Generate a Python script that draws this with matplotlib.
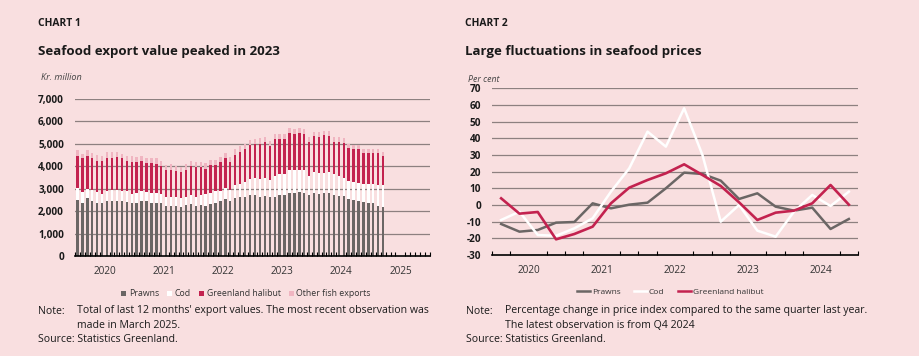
import matplotlib
matplotlib.use("Agg")
import matplotlib.pyplot as plt
import numpy as np
from matplotlib.lines import Line2D
from matplotlib.patches import Patch

plt.rcParams['font.family'] = ['Open Sans', 'DejaVu Sans']

# ---------------- Chart 1 data (monthly, Jan 2020 - Mar 2025), Kr. million -------------
prawns = [2500, 2380, 2580, 2470, 2380, 2350, 2430, 2430, 2430, 2430, 2400, 2350,
          2350, 2470, 2430, 2380, 2380, 2350, 2230, 2230, 2230, 2200, 2290, 2320,
          2230, 2260, 2230, 2320, 2380, 2430, 2530, 2440, 2580, 2620, 2650, 2710,
          2720, 2650, 2690, 2650, 2620, 2720, 2720, 2830, 2830, 2870, 2830, 2720,
          2800, 2770, 2800, 2800, 2720, 2680, 2680, 2550, 2500, 2450, 2420, 2380,
          2350, 2250, 2170]
cod = [520, 490, 420, 480, 470, 430, 470, 520, 520, 470, 480, 430,
       450, 430, 420, 440, 420, 400, 390, 390, 390, 380, 360, 380,
       420, 440, 550, 480, 520, 470, 520, 510, 570, 580, 650, 740,
       780, 800, 810, 750, 930, 930, 930, 1020, 1020, 980, 1020, 860,
       950, 930, 920, 950, 930, 870, 820, 800, 800, 800, 780, 820,
       850, 930, 980]
halibut = [1460, 1480, 1480, 1430, 1400, 1470, 1480, 1430, 1470, 1450, 1370, 1420,
           1400, 1350, 1300, 1330, 1320, 1250, 1230, 1230, 1180, 1170, 1200, 1300,
           1300, 1250, 1120, 1250, 1150, 1300, 1300, 1250, 1350, 1450, 1450, 1500,
           1500, 1550, 1580, 1500, 1650, 1580, 1580, 1650, 1600, 1620, 1600, 1520,
           1600, 1600, 1660, 1600, 1450, 1550, 1550, 1450, 1450, 1500, 1400, 1400,
           1400, 1420, 1300]
other = [230, 220, 250, 230, 240, 230, 240, 240, 220, 220, 230, 240,
         230, 230, 220, 230, 240, 230, 220, 230, 230, 220, 230, 240,
         230, 220, 230, 230, 240, 220, 260, 220, 250, 240, 260, 230,
         220, 240, 230, 240, 230, 230, 230, 220, 220, 220, 210, 200,
         200, 210, 190, 210, 200, 200, 200, 180, 180, 180, 190, 190,
         180, 190, 190]
years1 = ['2020', '2021', '2022', '2023', '2024', '2025']
yticks1 = [0, 1000, 2000, 3000, 4000, 5000, 6000, 7000]

# ---------------- Chart 2 data (quarterly, Q1 2020 - Q4 2024), per cent ----------------
prawns_pct = [-11.4, -16, -15, -10.6, -10.2, 1, -2, 0.2, 1.4, 10, 19.4, 18.6,
              14.6, 3.6, 7, -1, -3.4, -1.6, -14.4, -8.4]
cod_pct = [-9, -4, -18, -18.5, -14, -8, 8, 22, 44, 35, 58, 30,
           -10, 0, -15.4, -19, -4, 6, -0.6, 8]
halibut_pct = [4, -5.2, -4.2, -20.6, -17.4, -13, 1, 10.4, 15, 19, 24.4, 18,
               11.4, 1.6, -9, -4.6, -3.4, 1, 12, 0.2]
years2 = ['2020', '2021', '2022', '2023', '2024']
yticks2 = [-30, -20, -10, 0, 10, 20, 30, 40, 50, 60, 70]

# ---------------- Styling ----------------
BG = '#f9dfe0'
C_PRAWN = '#6b6665'
C_COD = '#ffffff'
C_HAL = '#c3224f'
C_OTHER = '#f0b5c1'
C_GRID = '#8d8080'
C_TXT = '#1a1a1a'

W, H = 920, 356
fig = plt.figure(figsize=(W / 100, H / 100), dpi=100, facecolor=BG)


def fx(px):
    return px / W


def fy(py):
    return 1 - py / H


def ax_rect(x0, y0, x1, y1):
    return [fx(x0), fy(y1), fx(x1) - fx(x0), fy(y0) - fy(y1)]


TICK_FS = 7.2

# ================= Chart 1 =================
ax1 = fig.add_axes(ax_rect(75, 99, 430, 256))
ax1.set_facecolor(BG)
n = len(prawns)
x = np.arange(n) + 0.5
bw = 0.48
p = np.array(prawns)
c = np.array(cod)
h = np.array(halibut)
o = np.array(other)
ax1.bar(x, p, bw, color=C_PRAWN, zorder=3, linewidth=0)
ax1.bar(x, c, bw, bottom=p, color=C_COD, zorder=3, linewidth=0)
ax1.bar(x, h, bw, bottom=p + c, color=C_HAL, zorder=3, linewidth=0)
ax1.bar(x, o, bw, bottom=p + c + h, color=C_OTHER, zorder=3, linewidth=0)
ax1.set_xlim(0, 72)
ax1.set_ylim(0, 7000)
for yv in yticks1[1:]:
    ax1.axhline(yv, color=C_GRID, lw=0.9, zorder=1)
ax1.set_yticks(yticks1)
ax1.set_yticklabels([f'{v:,}' for v in yticks1], fontsize=TICK_FS, fontweight='bold', color=C_TXT)
ax1.tick_params(axis='y', length=0, pad=8)
ax1.set_xticks(np.arange(0, 73, 1), minor=True)
ax1.set_xticks([6 + 12 * i for i in range(len(years1))])
ax1.set_xticklabels(years1, fontsize=TICK_FS, color='#333333')
ax1.tick_params(axis='x', which='major', length=0, pad=7)
ax1.tick_params(axis='x', which='minor', length=3, direction='in', width=0.8, color='black')
for s in ['top', 'right', 'left']:
    ax1.spines[s].set_visible(False)
ax1.spines['bottom'].set_color('black')
ax1.spines['bottom'].set_linewidth(1.2)
ax1.spines['bottom'].set_zorder(4)

handles1 = [Patch(facecolor=C_PRAWN, label='Prawns'),
            Patch(facecolor=C_COD, label='Cod'),
            Patch(facecolor=C_HAL, label='Greenland halibut'),
            Patch(facecolor=C_OTHER, label='Other fish exports')]
fig.legend(handles=handles1, loc='center', bbox_to_anchor=(fx(246), fy(294)), ncol=4,
           frameon=False, fontsize=6.3, handlelength=0.6, handleheight=0.6,
           handletextpad=0.3, columnspacing=0.9, labelcolor='#333333')

# ================= Chart 2 =================
ax2 = fig.add_axes(ax_rect(492, 88.3, 858, 255))
ax2.set_facecolor(BG)
q = np.arange(len(prawns_pct)) + 0.5
ax2.plot(q, prawns_pct, color=C_PRAWN, lw=1.8, zorder=3)
ax2.plot(q, cod_pct, color=C_COD, lw=1.8, zorder=3)
ax2.plot(q, halibut_pct, color=C_HAL, lw=1.9, zorder=4)
ax2.set_xlim(0, 20)
ax2.set_ylim(-30, 70)
for yv in yticks2[1:]:
    ax2.axhline(yv, color=C_GRID, lw=0.9, zorder=1)
ax2.set_yticks(yticks2)
ax2.set_yticklabels([str(v) for v in yticks2], fontsize=TICK_FS, fontweight='bold', color=C_TXT)
ax2.tick_params(axis='y', length=0, pad=8)
ax2.set_xticks(np.arange(0, 21, 1), minor=True)
ax2.set_xticks([2 + 4 * i for i in range(len(years2))])
ax2.set_xticklabels(years2, fontsize=TICK_FS, color='#333333')
ax2.tick_params(axis='x', which='major', length=0, pad=7)
ax2.tick_params(axis='x', which='minor', length=3, direction='in', width=0.8, color='black')
for s in ['top', 'right', 'left']:
    ax2.spines[s].set_visible(False)
ax2.spines['bottom'].set_color('black')
ax2.spines['bottom'].set_linewidth(1.2)

handles2 = [Line2D([], [], color=C_PRAWN, lw=1.8, label='Prawns'),
            Line2D([], [], color=C_COD, lw=1.8, label='Cod'),
            Line2D([], [], color=C_HAL, lw=1.8, label='Greenland halibut')]
fig.legend(handles=handles2, loc='center', bbox_to_anchor=(fx(670), fy(292)), ncol=3,
           frameon=False, fontsize=6.0, handlelength=1.6, handletextpad=0.2,
           columnspacing=1.6, labelcolor='#333333')

# ================= Texts =================
fig.text(fx(38), fy(23), 'CHART 1', fontsize=7.4, fontweight='bold', color=C_TXT, va='center')
fig.text(fx(38), fy(51), 'Seafood export value peaked in 2023', fontsize=9.5, fontweight='bold',
         color=C_TXT, va='center')
fig.text(fx(41), fy(78), 'Kr. million', fontsize=6.6, style='italic', color='#444444', va='center')

fig.text(fx(465), fy(23), 'CHART 2', fontsize=7.4, fontweight='bold', color=C_TXT, va='center')
fig.text(fx(465), fy(51), 'Large fluctuations in seafood prices', fontsize=9.5, fontweight='bold',
         color=C_TXT, va='center')
fig.text(fx(468), fy(79), 'Per cent', fontsize=6.3, style='italic', color='#444444', va='center')

ns = 7.55
fig.text(fx(38), fy(311), 'Note:', fontsize=ns, color=C_TXT, va='center')
fig.text(fx(77), fy(311), "Total of last 12 months' export values. The most recent observation was",
         fontsize=ns, color=C_TXT, va='center')
fig.text(fx(77), fy(325), 'made in March 2025.', fontsize=ns, color=C_TXT, va='center')
fig.text(fx(38), fy(339), 'Source: Statistics Greenland.', fontsize=ns, color=C_TXT, va='center')

fig.text(fx(466), fy(311), 'Note:', fontsize=ns, color=C_TXT, va='center')
fig.text(fx(505), fy(311), 'Percentage change in price index compared to the same quarter last year.',
         fontsize=ns, color=C_TXT, va='center')
fig.text(fx(505), fy(325), 'The latest observation is from Q4 2024', fontsize=ns, color=C_TXT, va='center')
fig.text(fx(466), fy(339), 'Source: Statistics Greenland.', fontsize=ns, color=C_TXT, va='center')

fig.savefig('out.png', dpi=100, facecolor=BG)
